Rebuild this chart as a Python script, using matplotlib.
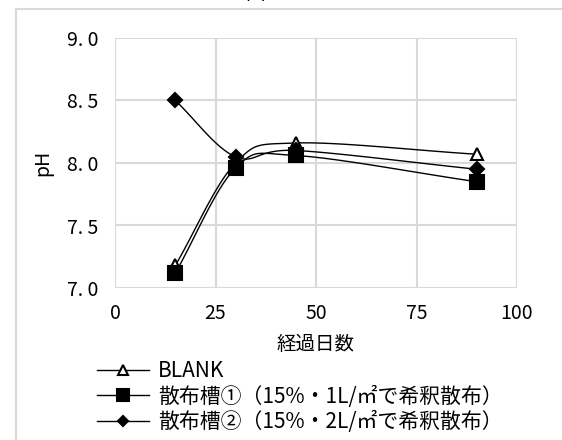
import matplotlib.pyplot as plt
import numpy as np

plt.rcParams['font.family'] = ['Noto Sans CJK JP', 'DejaVu Sans']

# dados
dias = [15, 30, 45, 90]
ph_blank = [7.18, 8.00, 8.16, 8.07]
ph_tanque1 = [7.12, 7.96, 8.06, 7.85]
ph_tanque2 = [8.50, 8.05, 8.10, 7.95]

rotulos = ['BLANK',
           '散布槽①（15%・1L/㎡で希釈散布）',
           '散布槽②（15%・2L/㎡で希釈散布）']
marcadores = [('^', 'white', 9), ('s', 'black', 10), ('D', 'black', 7)]


def suavizar(x, y, n=40):
    """Curva suave tipo Catmull-Rom passando pelos pontos."""
    x = np.asarray(x, float)
    y = np.asarray(y, float)
    px = np.concatenate([[2 * x[0] - x[1]], x, [2 * x[-1] - x[-2]]])
    py = np.concatenate([[2 * y[0] - y[1]], y, [2 * y[-1] - y[-2]]])
    xs, ys = [], []
    t = np.linspace(0, 1, n)
    for i in range(1, len(px) - 2):
        for p, out in ((px, xs), (py, ys)):
            p0, p1, p2, p3 = p[i - 1], p[i], p[i + 1], p[i + 2]
            out.extend(0.5 * ((2 * p1) + (-p0 + p2) * t
                              + (2 * p0 - 5 * p1 + 4 * p2 - p3) * t ** 2
                              + (-p0 + 3 * p1 - 3 * p2 + p3) * t ** 3))
    return xs, ys


fig = plt.figure(figsize=(5.62, 4.40), dpi=100)
ax = fig.add_axes([115 / 562, 1 - 288 / 440, 402 / 562, 250 / 440])

for serie, rot, (m, cor, ms) in zip([ph_blank, ph_tanque1, ph_tanque2], rotulos, marcadores):
    xs, ys = suavizar(dias, serie)
    ax.plot(xs, ys, color='black', lw=1, zorder=3)
    ax.plot(dias, serie, ls='none', marker=m, mfc=cor, mec='black',
            mew=1.5, ms=ms, zorder=4)
    ax.plot([], [], color='black', lw=1, marker=m, mfc=cor, mec='black',
            mew=1.5, ms=ms * 0.8, label=rot)

ax.set_xlim(0, 100)
ax.set_ylim(7.0, 9.0)
ax.set_xticks([0, 25, 50, 75, 100])
ax.set_yticks([7.0, 7.5, 8.0, 8.5, 9.0])
ax.set_yticklabels(['7. 0', '7. 5', '8. 0', '8. 5', '9. 0'])
ax.grid(True, color='#d9d9d9', lw=1.5)
ax.set_axisbelow(True)
for s in ax.spines.values():
    s.set_visible(False)
ax.tick_params(axis='x', length=0, labelsize=14, pad=11)
ax.tick_params(axis='y', length=0, labelsize=14, pad=12)
ax.set_xlabel('経過日数', fontsize=14, labelpad=7)
ax.set_ylabel('pH', fontsize=14, labelpad=10)

fig.text(0.512, 1 - 4 / 440, '図 3  COD', ha='center', va='bottom', fontsize=14)
# borda da área do gráfico
borda = [16 / 562, 1.1, 1 - 9 / 440]
fig.add_artist(plt.Line2D([borda[0], borda[1]], [borda[2], borda[2]], color='#d9d9d9', lw=1.5))
fig.add_artist(plt.Line2D([borda[0], borda[0]], [-0.1, borda[2]], color='#d9d9d9', lw=1.5))

fig.legend(loc='upper left', bbox_to_anchor=(89 / 562, 1 - 352 / 440), frameon=False,
           fontsize=15, handlelength=2.5, handletextpad=0.4, labelspacing=0.15,
           borderaxespad=0)

plt.savefig('out.png', dpi=100)
